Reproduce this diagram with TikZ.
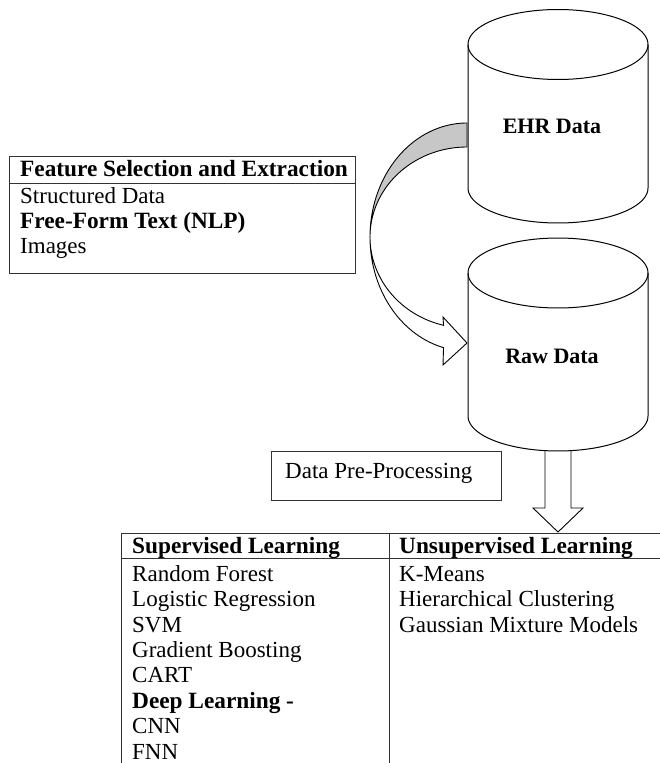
\documentclass[tikz,border=0pt]{standalone}
\usepackage{fontspec}
\setmainfont{Liberation Serif}
\begin{document}
\begin{tikzpicture}[x=1pt,y=-1pt,
  rule/.style={draw=black!80, line width=0.9pt},
  txt/.style={anchor=base west, inner sep=0pt, font=\fontsize{23}{25}\selectfont},
  btxt/.style={anchor=base west, inner sep=0pt, font=\fontsize{23.3}{25}\selectfont\bfseries},
  lbl/.style={anchor=base, inner sep=0pt, font=\fontsize{22}{25}\selectfont\bfseries},
  cyl/.style={draw=black, line width=1pt, fill=white},
  blockarrow/.style={draw=black, line width=0.9pt, fill=white},
  backface/.style={draw=black, line width=0.9pt, fill=black!22},
]
\useasboundingbox (0,0) rectangle (660,763);

% down block arrow (drawn first, its top is hidden by the cylinder)
\coordinate (dtip) at (558,532);
\filldraw[blockarrow] (545,440) -- (545,508) -- (533,508) -- (dtip) -- (583,508) -- (571,508) -- (571,440);

% EHR Data cylinder (centre x 558, top 44.5, bottom 188)
\filldraw[cyl] plot[domain=180:360,samples=80] ({558+90*cos(\x)},{188-35*sin(\x)})
  -- plot[domain=0:180,samples=80] ({558+90*cos(\x)},{44.5-35*sin(\x)}) -- cycle;
\draw[cyl, fill=none] plot[domain=180:360,samples=80] ({558+90*cos(\x)},{44.5-35*sin(\x)});
\node[lbl] (ehr) at (552,133) {EHR Data};

% Raw Data cylinder (centre x 558, top 273, bottom 416)
\filldraw[cyl] plot[domain=180:360,samples=80] ({558+90*cos(\x)},{416-35*sin(\x)})
  -- plot[domain=0:180,samples=80] ({558+90*cos(\x)},{273-35*sin(\x)}) -- cycle;
\draw[cyl, fill=none] plot[domain=180:360,samples=80] ({558+90*cos(\x)},{273-35*sin(\x)});
\node[lbl] (raw) at (552,363) {Raw Data};

% curved block arrow from EHR Data to Raw Data
\coordinate (ctip) at (467,343);
\filldraw[backface] plot[domain=90:180,samples=60] ({467+97*cos(\x)},{237-114*sin(\x)})
  -- plot[domain=180:90,samples=60] ({467+97*cos(\x)},{237-90*sin(\x)}) -- cycle;
\filldraw[blockarrow] plot[domain=180:256,samples=60] ({467+97*cos(\x)},{237-114*sin(\x)})
  -- (443,365) -- (ctip) -- (443,317)
  -- plot[domain=256:180,samples=60] ({467+97*cos(\x)},{237-91*sin(\x)}) -- cycle;

% Feature Selection and Extraction box
\draw[rule] (9,156) rectangle (355,273);
\draw[rule] (9,183) -- (355,183);
\node[btxt] (fh) at (20,176) {Feature Selection and Extraction};
\node[txt]  (f1) at (20,203) {Structured Data};
\node[btxt] (f2) at (20,228) {Free-Form Text (NLP)};
\node[txt]  (f3) at (20,253) {Images};

% Data Pre-Processing box
\draw[rule] (271,451) rectangle (501,500);
\node[txt] (dpp) at (285,478) {Data Pre-Processing};

% table
\draw[rule] (121,533) -- (660,533);
\draw[rule] (121,558) -- (660,558);
\draw[rule] (121,533) -- (121,763);
\draw[rule] (389,533) -- (389,763);
\node[btxt] (sh) at (132,553) {Supervised Learning};
\node[btxt] (uh) at (399,553) {Unsupervised Learning};
\node[txt]  (s1) at (132,581) {Random Forest};
\node[txt]  (s2) at (132,606) {Logistic Regression};
\node[txt]  (s3) at (132,632) {SVM};
\node[txt]  (s4) at (132,657) {Gradient Boosting};
\node[txt]  (s5) at (132,682) {CART};
\node[btxt] (s6) at (132,708) {Deep Learning -};
\node[txt]  (s7) at (132,733) {CNN};
\node[txt]  (s8) at (132,759) {FNN};
\node[txt]  (u1) at (399,581) {K-Means};
\node[txt]  (u2) at (399,606) {Hierarchical Clustering};
\node[txt]  (u3) at (399,632) {Gaussian Mixture Models};
\end{tikzpicture}
\end{document}
